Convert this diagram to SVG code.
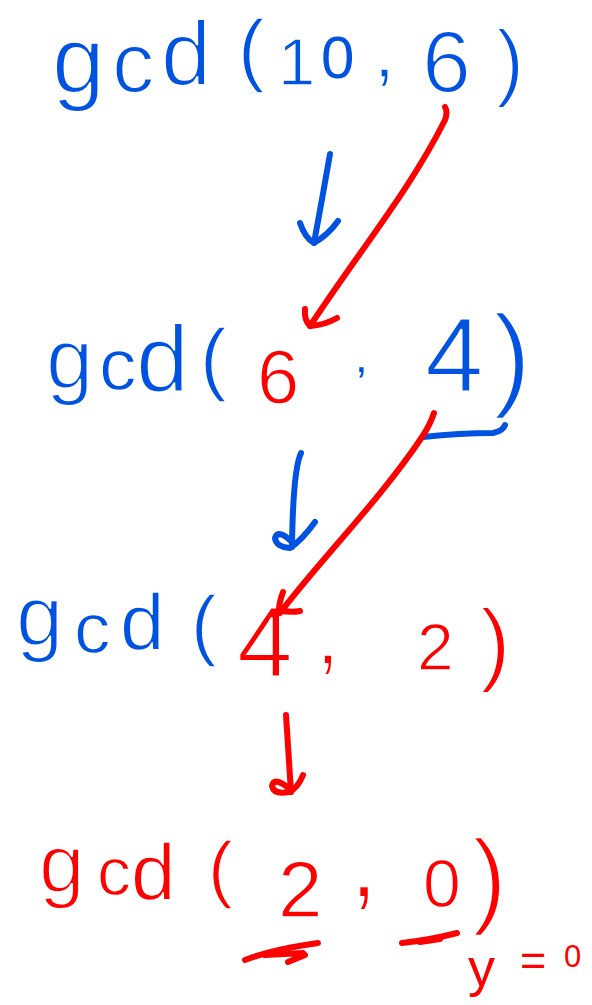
<svg xmlns="http://www.w3.org/2000/svg" width="592" height="1005" viewBox="0 0 592 1005">
<style>
  text { font-family: "Liberation Sans", Arial, sans-serif; }
  .hand { stroke: #ffffff; stroke-width: 2; }
  .b { fill: #0052e0; }
  .r { fill: #ff0000; }
  .ns { stroke: none; }
  .mid { stroke-width: 1.3; }
  .xs { stroke-width: 2.6; }
  .sb { fill: none; stroke: #0052e0; stroke-width: 6; stroke-linecap: round; stroke-linejoin: round; }
  .sr { fill: none; stroke: #ff0000; stroke-width: 6; stroke-linecap: round; stroke-linejoin: round; }
</style>
<rect width="592" height="1005" fill="#ffffff"/>

<g id="node-gcd-10-6">
  <text class="b hand"><tspan x="52" y="92" font-size="95">g</tspan><tspan x="112" y="92" font-size="85">c</tspan><tspan x="161" y="85" font-size="90">d</tspan><tspan class="mid" x="238" y="76" font-size="80">(</tspan><tspan class="mid" x="278" y="85" font-size="67">1</tspan><tspan class="ns" x="321" y="78" font-size="60">0</tspan><tspan class="mid" x="374" y="77" font-size="75">, </tspan><tspan x="422" y="92" font-size="88">6</tspan><tspan x="496" y="90" font-size="85">)</tspan></text>
</g>

<g id="node-gcd-6-4">
  <text class="b hand"><tspan x="46" y="388" font-size="85">g</tspan><tspan class="mid" x="99" y="390" font-size="75">c</tspan><tspan x="136" y="392" font-size="95">d</tspan><tspan class="mid" x="200" y="385" font-size="80">(</tspan><tspan class="r mid" x="257" y="403" font-size="76">6</tspan><tspan class="ns" x="355" y="372" font-size="45">, </tspan><tspan x="425" y="392" font-size="105">4</tspan><tspan class="xs" x="493" y="395" font-size="115">)</tspan></text>
  <path class="sb" d="M423,437 Q460,433 493,433 Q503,431 505,425"/>
</g>

<g id="node-gcd-4-2">
  <text class="b hand"><tspan x="16" y="645" font-size="85">g</tspan><tspan class="mid" x="74" y="653" font-size="73">c</tspan><tspan class="mid" x="120" y="650" font-size="80">d</tspan><tspan class="mid" x="191" y="651" font-size="77">(</tspan><tspan class="r" x="237" y="677" font-size="100">4</tspan><tspan class="r" x="316" y="664" font-size="85">, </tspan><tspan class="r mid" x="417" y="670" font-size="66">2</tspan><tspan class="r" x="480" y="674" font-size="92">)</tspan></text>
</g>

<g id="node-gcd-2-0">
  <text class="r hand"><tspan x="39" y="892" font-size="82">g</tspan><tspan class="mid" x="97" y="895" font-size="68">c</tspan><tspan class="mid" x="131" y="900" font-size="80">d</tspan><tspan class="mid" x="208" y="894" font-size="75">(</tspan><tspan class="mid" x="278" y="917" font-size="80">2</tspan><tspan x="350" y="897" font-size="100">, </tspan><tspan class="mid" x="423" y="907" font-size="68">0</tspan><tspan class="xs" x="472" y="914" font-size="105">)</tspan></text>
  <path class="sr" d="M245,960 Q270,950 318,943"/>
  <path class="sr" d="M265,955 L303,953 M288,962 L305,955"/>
  <path class="sr" d="M402,943 Q430,940 457,933"/>
  <path class="sr" d="M420,942 L440,939" stroke-width="8"/>
</g>

<g id="label-y0">
  <text class="r"><tspan x="468" y="986" font-size="54">y</tspan><tspan x="520" y="975" font-size="45">=</tspan><tspan x="564" y="967" font-size="31">0</tspan></text>
</g>

<g id="connectors">
  <path class="sb" d="M330,154 Q322,200 314,243"/>
  <path class="sb" d="M300,223 Q305,238 314,243 Q328,235 338,221"/>
  <path class="sr" d="M445,107 Q448,112 445,120 C410,190 360,250 310,326"/>
  <path class="sr" d="M305,309 Q304,320 310,326 Q325,325 337,318"/>
  <path class="sb" d="M301,453 Q293,470 292,547"/>
  <path class="sb" d="M315,522 Q302,540 290,548 Q276,547 275,538 Q278,529 291,541"/>
  <path class="sr" d="M434,413 Q430,425 422,437 C380,500 320,560 280,613"/>
  <path class="sr" d="M283,592 Q279,603 279,610 Q290,613 300,611"/>
  <path class="sr" d="M286,715 L291,792"/>
  <path class="sr" d="M303,775 Q298,788 289,792 Q274,795 272,786 Q274,776 290,789"/>
</g>
</svg>
